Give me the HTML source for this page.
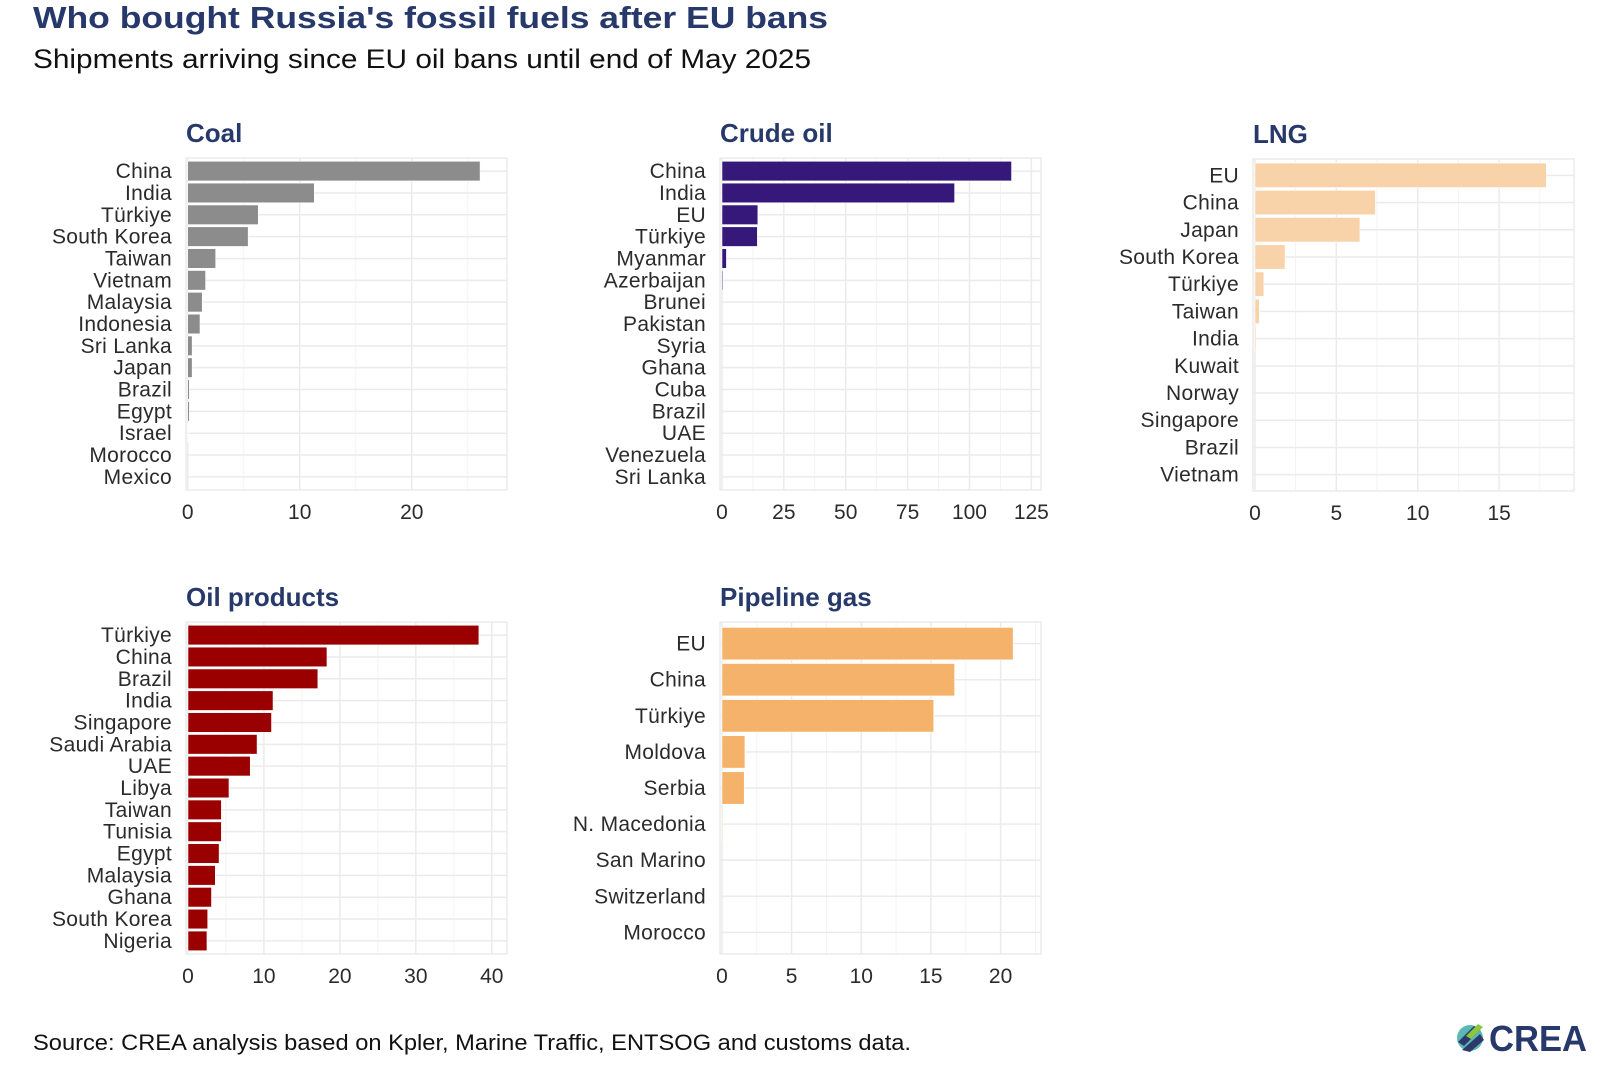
<!DOCTYPE html>
<html><head><meta charset="utf-8"><style>
html,body{margin:0;padding:0;background:#fff;}
svg{display:block;}
.cat{font-family:"Liberation Sans",sans-serif;font-size:21px;fill:#2b2b2b;letter-spacing:0.3px;}
.tick{font-family:"Liberation Sans",sans-serif;font-size:21px;fill:#2b2b2b;}
.ptitle{font-family:"Liberation Sans",sans-serif;font-size:26px;font-weight:bold;fill:#27386b;}
</style></head><body>
<svg id="chart" width="1600" height="1066" viewBox="0 0 1600 1066" xmlns="http://www.w3.org/2000/svg">
<rect width="1600" height="1066" fill="#fff"/>
<text x="33" y="28" font-family="Liberation Sans, sans-serif" font-weight="bold" font-size="31" fill="#27386b" textLength="795" lengthAdjust="spacingAndGlyphs">Who bought Russia's fossil fuels after EU bans</text>
<text x="33" y="68" font-family="Liberation Sans, sans-serif" font-size="27" fill="#111" textLength="778" lengthAdjust="spacingAndGlyphs">Shipments arriving since EU oil bans until end of May 2025</text>
<text x="33" y="1050" font-family="Liberation Sans, sans-serif" font-size="22" fill="#111" textLength="878" lengthAdjust="spacingAndGlyphs">Source: CREA analysis based on Kpler, Marine Traffic, ENTSOG and customs data.</text>
<g>
<circle cx="1470" cy="1038" r="13" fill="#5bb9b4"/>
<path d="M1458 1042 L1474 1026 L1480 1030 L1464 1046 Z" fill="#2b3a6b"/>
<path d="M1462 1050 L1480 1034 L1484 1040 L1470 1052 Z" fill="#2b3a6b"/>
<path d="M1466 1036 L1478 1024 L1483 1027 L1471 1039 Z" fill="#8cc63f"/>
<text x="1489" y="1051" font-family="Liberation Sans, sans-serif" font-weight="bold" font-size="36" fill="#27386b" textLength="98" lengthAdjust="spacingAndGlyphs">CREA</text>
</g>
<g id="panels"></g>
</svg>
<script>
const coalCats = ["China","India","Türkiye","South Korea","Taiwan","Vietnam","Malaysia","Indonesia","Sri Lanka","Japan","Brazil","Egypt","Israel","Morocco","Mexico"];
const coalVals = [26.1,11.3,6.3,5.4,2.5,1.6,1.3,1.1,0.4,0.4,0.15,0.15,0.05,0,0];
const coalTicks = [0,10,20];
const crudeCats = ["China","India","EU","Türkiye","Myanmar","Azerbaijan","Brunei","Pakistan","Syria","Ghana","Cuba","Brazil","UAE","Venezuela","Sri Lanka"];
const crudeVals = [117,94,14.5,14.3,1.8,0.4,0,0,0,0,0,0,0,0,0];
const crudeTicks = [0,25,50,75,100,125];
const lngCats = ["EU","China","Japan","South Korea","Türkiye","Taiwan","India","Kuwait","Norway","Singapore","Brazil","Vietnam"];
const lngVals = [17.9,7.4,6.45,1.85,0.55,0.27,0.07,0,0,0,0,0];
const lngTicks = [0,5,10,15];
const oilCats = ["Türkiye","China","Brazil","India","Singapore","Saudi Arabia","UAE","Libya","Taiwan","Tunisia","Egypt","Malaysia","Ghana","South Korea","Nigeria"];
const oilVals = [38.3,18.3,17.1,11.2,11.0,9.1,8.2,5.4,4.4,4.4,4.1,3.6,3.1,2.6,2.5];
const oilTicks = [0,10,20,30,40];
const pipeCats = ["EU","China","Türkiye","Moldova","Serbia","N. Macedonia","San Marino","Switzerland","Morocco"];
const pipeVals = [20.9,16.7,15.2,1.65,1.6,0.05,0,0,0];
const pipeTicks = [0,5,10,15,20];

const NS = "http://www.w3.org/2000/svg";
const root = document.getElementById('panels');
function mk(tag, attrs, parent){const e=document.createElementNS(NS,tag);for(const k in attrs)e.setAttribute(k,attrs[k]);parent.appendChild(e);return e;}

function panel(key,title,cats,vals,ticks,dom,left,top,color,stroke){
  const W=321,H=332;
  const g=mk('g',{},root);
  
  
  const x=v=>left+(v-dom[0])/(dom[1]-dom[0])*W;
  const n=cats.length, step=H/(n-1+1.2);
  const y=i=>top+step*(0.6+i);
  const tstep=ticks[1]-ticks[0];
  for(let v=tstep/2; v<dom[1]; v+=tstep){
    const l=mk('line',{x1:x(v),x2:x(v),y1:top,y2:top+H,stroke:'#f3f3f3','stroke-width':1},g);
    
    
  }
  ticks.forEach(v=>{
    const l=mk('line',{x1:x(v),x2:x(v),y1:top,y2:top+H,stroke:'#ebebeb','stroke-width':1.5},g);
    
    
    const t=mk('text',{x:x(v),y:top+H+29,'text-anchor':'middle',class:'tick'},g);
    t.textContent=v;
    
    
  });
  cats.forEach((c,i)=>{
    const l=mk('line',{x1:left,x2:left+W,y1:y(i),y2:y(i),stroke:'#ebebeb','stroke-width':1.5},g);
    
    
  });
  const b=mk('rect',{x:left,y:top,width:W,height:H,fill:'none',stroke:'#ebebeb','stroke-width':1.5},g);
  
  
  cats.forEach((c,i)=>{
    const bw=Math.max(0,x(vals[i])-x(0));
    if(bw>0){
      const r=mk('rect',{x:x(0),y:y(i)-step*0.45,width:bw,height:step*0.9,fill:color,stroke:stroke,'stroke-width':0.6},g);
      
      
    }
    const t=mk('text',{x:left-14,y:y(i)+7,'text-anchor':'end',class:'cat'},g);
    t.textContent=c;
    
    
  });
  const tt=mk('text',{x:left,y:top-16,class:'ptitle'},g);
  tt.textContent=title;
  
  
}
panel('coal','Coal',coalCats,coalVals,coalTicks,[-0.15,28.5],186,158,'#8c8c8c','#fff');
panel('crude-oil','Crude oil',crudeCats,crudeVals,crudeTicks,[-0.8,128.9],720,158,'#35187a','#fff');
panel('lng','LNG',lngCats,lngVals,lngTicks,[-0.12,19.6],1253,159,'#f8d3a9','#fff');
panel('oil-products','Oil products',oilCats,oilVals,oilTicks,[-0.26,42],186,622,'#9b0000','#fff');
panel('pipeline-gas','Pipeline gas',pipeCats,pipeVals,pipeTicks,[-0.14,22.9],720,622,'#f4b26b','#fff');
</script>
</body></html>
